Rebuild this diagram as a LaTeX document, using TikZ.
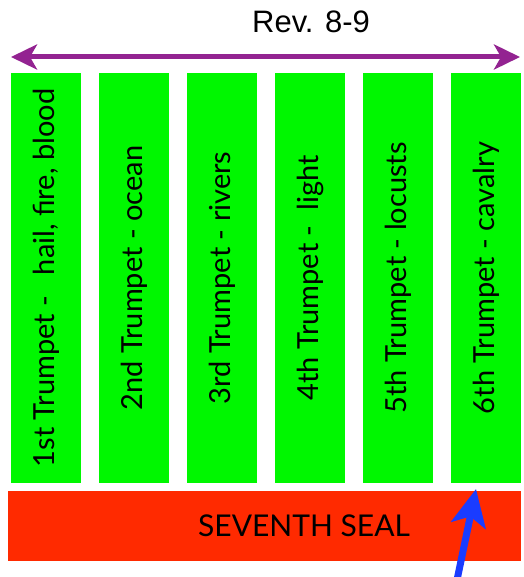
\documentclass[tikz,border=0pt]{standalone}
\usepackage{fontspec}
\setmainfont{Liberation Sans}
\newfontfamily\gill{Lato}
\usetikzlibrary{arrows.meta}
\definecolor{barGreen}{HTML}{00F700}
\definecolor{sealRed}{HTML}{FF2A00}
\definecolor{spanPurple}{HTML}{932391}
\definecolor{pointBlue}{HTML}{1A3CFF}
\begin{document}
\begin{tikzpicture}[x=1pt,y=-1pt,
  trumpet/.style={rotate=90, fill=barGreen, minimum width=410pt, minimum height=70pt,
     inner sep=0pt, font=\gill\fontsize{29}{34}\selectfont, text=black},
  sealbox/.style={fill=sealRed, minimum width=513pt, minimum height=70pt, inner sep=0pt},
  sealtext/.style={font=\gill\fontsize{30}{35}\selectfont, text=black, inner sep=0pt},
  span/.style={draw=spanPurple, line width=5pt,
     {Stealth[length=26pt,width=25pt,inset=7pt]}-{Stealth[length=26pt,width=25pt,inset=7pt]}},
  pointer/.style={draw=pointBlue, line width=7pt,
     -{Stealth[length=37pt,width=35pt,inset=9pt]}},
  title/.style={font=\fontsize{31}{36}\selectfont, inner sep=0pt, anchor=base}
]
\useasboundingbox (0,0) rectangle (523,577);
\node[title] (rev) at (311,33) {Rev. 8-9};
\coordinate (spanL) at (11,57);
\coordinate (spanR) at (520,57);
\draw[span] (spanL) -- (spanR);
\node[trumpet] (t1) at (46,278) {1st Trumpet -\hspace{0.45em} hail, fire, blood};
\node[trumpet] (t2) at (134,278) {2nd Trumpet - ocean};
\node[trumpet] (t3) at (222,278) {3rd Trumpet - rivers};
\node[trumpet] (t4) at (310,278) {4th Trumpet - \ light};
\node[trumpet] (t5) at (398,278) {5th Trumpet - locusts};
\node[trumpet] (t6) at (486,278) {6th Trumpet - cavalry};
\node[sealbox] (seal) at (264.5,526) {};
\node[sealtext] (sealtxt) at (304,526) {SEVENTH SEAL};
\coordinate (tail) at (457,580);
\coordinate (tip) at (476,489);
\draw[pointer] (tail) -- (tip);
\end{tikzpicture}
\end{document}
